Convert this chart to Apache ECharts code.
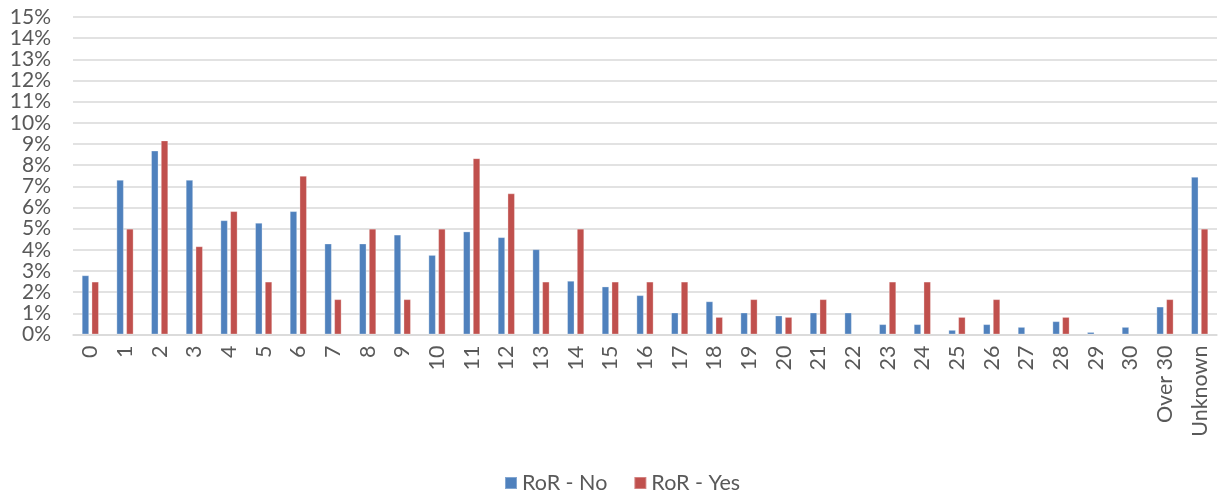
<!DOCTYPE html>
<html>
<head>
<meta charset="utf-8">
<script src="https://cdn.jsdelivr.net/npm/echarts@6/dist/echarts.min.js"></script>
<style>
  html, body { margin: 0; padding: 0; background: #ffffff; }
  #chart { width: 1226px; height: 497px; }
</style>
</head>
<body>
<div id="chart"></div>
<script>
// Years categories along the x axis
const categories = ['0','1','2','3','4','5','6','7','8','9','10','11','12','13','14','15',
  '16','17','18','19','20','21','22','23','24','25','26','27','28','29','30','Over 30','Unknown'];

// Share of cases (%) per category
const rorNo = [2.80, 7.31, 8.69, 7.31, 5.40, 5.28, 5.83, 4.30, 4.30, 4.72, 3.76, 4.87, 4.60, 4.03,
  2.54, 2.27, 1.86, 1.04, 1.57, 1.04, 0.90, 1.04, 1.04, 0.49, 0.49, 0.22, 0.49, 0.36, 0.63, 0.12,
  0.36, 1.32, 7.45];
const rorYes = [2.50, 5.00, 9.17, 4.17, 5.83, 2.50, 7.50, 1.67, 5.00, 1.67, 5.00, 8.33, 6.67, 2.50,
  5.00, 2.50, 2.50, 2.50, 0.83, 1.67, 0.83, 1.67, null, 2.50, 2.50, 0.83, 1.67, null, 0.83, null,
  null, 1.67, 5.00];

const seriesNames = ['RoR - No', 'RoR - Yes'];
const yMin = 0, yMax = 15, yStep = 1;

const textColor = '#595959';
const fontFamily = 'Lato, "Open Sans", sans-serif';

const chart = echarts.init(document.getElementById('chart'), null, { renderer: 'canvas' });

chart.setOption({
  animation: false,
  backgroundColor: '#ffffff',
  grid: { left: 73, right: 9, top: 17, bottom: 162.5, containLabel: false },
  legend: {
    data: seriesNames,
    left: 499,
    top: 467,
    itemWidth: 12,
    itemHeight: 12,
    itemGap: 26,
    icon: 'rect',
    textStyle: { color: textColor, fontSize: 21.5, fontFamily: fontFamily, padding: [0, 0, 0, 0] }
  },
  xAxis: {
    type: 'category',
    data: categories,
    axisLine: { show: true, lineStyle: { color: '#d9d9d9', width: 1.5 } },
    axisTick: { show: false },
    axisLabel: {
      rotate: 90,
      interval: 0,
      margin: 11,
      color: textColor,
      fontSize: 21.5,
      fontFamily: fontFamily
    }
  },
  yAxis: {
    type: 'value',
    min: yMin,
    max: yMax,
    interval: yStep,
    axisLine: { show: false },
    axisTick: { show: false },
    splitLine: { show: true, lineStyle: { color: '#d9d9d9', width: 1.5 } },
    axisLabel: {
      formatter: '{value}%',
      margin: 22,
      color: textColor,
      fontSize: 21,
      fontFamily: fontFamily
    }
  },
  series: [
    {
      name: seriesNames[0],
      type: 'bar',
      data: rorNo,
      barWidth: 7.5,
      barGap: '30%',
      itemStyle: { color: '#4f81bd', borderColor: 'rgba(255,255,255,0.3)', borderWidth: 1 }
    },
    {
      name: seriesNames[1],
      type: 'bar',
      data: rorYes,
      barWidth: 7.5,
      barGap: '30%',
      itemStyle: { color: '#c0504d', borderColor: 'rgba(255,255,255,0.3)', borderWidth: 1 }
    }
  ]
});
</script>
</body>
</html>
